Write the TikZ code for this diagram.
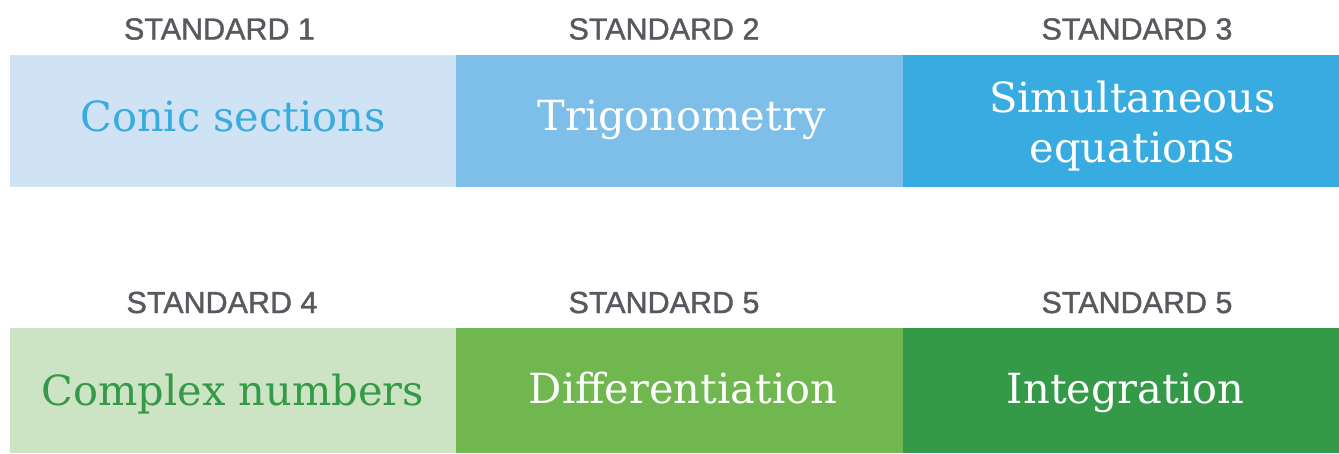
\documentclass[tikz,border=0pt]{standalone}
\usepackage{fontspec}
\setmainfont{DejaVu Serif}
\newfontfamily\labelfont[FakeBold=1.2]{Liberation Sans}
\definecolor{lblgray}{HTML}{58585F}
\definecolor{bA}{HTML}{CFE3F5}
\definecolor{bAtext}{HTML}{38ABE0}
\definecolor{bB}{HTML}{7EBFE9}
\definecolor{bC}{HTML}{38ACE1}
\definecolor{gA}{HTML}{CDE4C4}
\definecolor{gAtext}{HTML}{349A48}
\definecolor{gB}{HTML}{6FB74E}
\definecolor{gC}{HTML}{359A48}
\begin{document}
\begin{tikzpicture}[x=1pt,y=-1pt,
  box/.style={rectangle, inner sep=0pt, outer sep=0pt, draw=none},
  stdlabel/.style={anchor=base, inner sep=0pt, text=lblgray, font=\labelfont\fontsize{30.5}{34}\selectfont},
  topic/.style={anchor=base, inner sep=0pt, font=\fontsize{41.5}{50}\selectfont}]
\useasboundingbox (0,0) rectangle (1339,453);
\fill[white] (0,0) rectangle (1339,453);
% row 1 boxes
\node[box, fill=bA, minimum width=446pt, minimum height=132pt] (b1) at (233,121) {};
\node[box, fill=bB, minimum width=447pt, minimum height=132pt] (b2) at (679.5,121) {};
\node[box, fill=bC, minimum width=436pt, minimum height=132pt] (b3) at (1121,121) {};
% row 2 boxes
\node[box, fill=gA, minimum width=446pt, minimum height=125pt] (b4) at (233,390.5) {};
\node[box, fill=gB, minimum width=447pt, minimum height=125pt] (b5) at (679.5,390.5) {};
\node[box, fill=gC, minimum width=436pt, minimum height=125pt] (b6) at (1121,390.5) {};
% labels
\node[stdlabel] (l1) at (219.5,39.5) {STANDARD 1};
\node[stdlabel] (l2) at (664,39.5) {STANDARD 2};
\node[stdlabel] (l3) at (1137,39.5) {STANDARD 3};
\node[stdlabel] (l4) at (222,313) {STANDARD 4};
\node[stdlabel] (l5) at (664,313) {STANDARD 5};
\node[stdlabel] (l6) at (1137,313) {STANDARD 5};
% topics
\node[topic, text=bAtext] (t1) at (233,131.5) {Conic sections};
\node[topic, text=white] (t2) at (681.5,130.5) {Trigonometry};
\node[topic, text=white, anchor=center, align=center] (t3) at (1132.5,126) {Simultaneous\\equations};
\node[topic, text=gAtext] (t4) at (233,405) {Complex numbers};
\node[topic, text=white] (t5) at (683,403) {Differentiation};
\node[topic, text=white] (t6) at (1125.5,403) {Integration};
\end{tikzpicture}
\end{document}
